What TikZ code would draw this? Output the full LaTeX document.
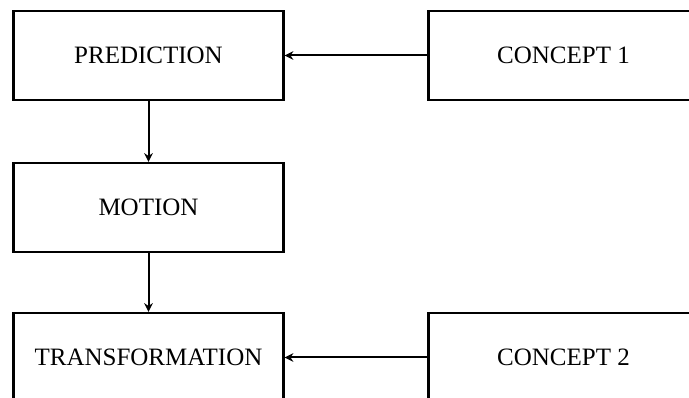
\documentclass[tikz,border=0pt]{standalone}
\usepackage{fontspec}
\setmainfont{Liberation Serif}
\usetikzlibrary{arrows.meta}
\begin{document}
\begin{tikzpicture}[x=0.75pt,y=-0.75pt,
  box/.style={draw=black, line width=1.8pt, fill=white, minimum width=202.5pt,
    minimum height=66.75pt, inner sep=0pt, font=\fontsize{18.75}{22}\selectfont},
  link/.style={draw=black, line width=1.5pt, -{Stealth[length=6.5pt,width=6.5pt]}}]
  \useasboundingbox (0,0) rectangle (689,398);
  \clip (0,0) rectangle (689,398);
  % left column
  \node[box] (pred) at (148.5,55.5) {PREDICTION};
  \node[box] (motion) at (148.5,207.5) {MOTION};
  \node[box] (trans) at (148.5,357.5) {TRANSFORMATION};
  % right column
  \node[box] (c1) at (563.5,55.5) {CONCEPT 1};
  \node[box] (c2) at (563.5,357.5) {CONCEPT 2};
  % connectors
  \draw[link] (pred) -- (motion);
  \draw[link] (motion) -- (trans);
  \draw[link] (c1) -- (pred);
  \draw[link] (c2) -- (trans);
\end{tikzpicture}
\end{document}
